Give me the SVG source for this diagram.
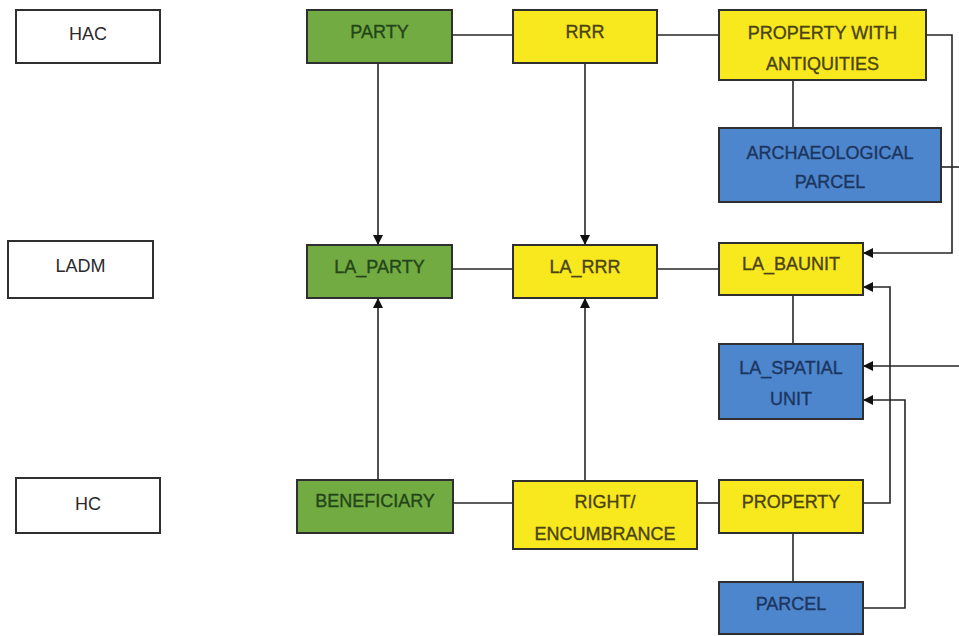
<svg xmlns="http://www.w3.org/2000/svg" width="959" height="636" viewBox="0 0 959 636">
  <style>
    .box { stroke: #2f2f2f; stroke-width: 2; }
    .lvl { fill: #ffffff; }
    .grn { fill: #72ab41; }
    .ylw { fill: #f8e81e; }
    .blu { fill: #4d86cc; }
    text { font-family: "Liberation Sans", Arial, sans-serif; font-size: 18px; text-anchor: middle; stroke-width: 0.35; }
    .t-lvl { fill: #2a2a2a; }
    .t-grn { fill: #24451a; stroke: #24451a; }
    .t-ylw { fill: #4a4314; stroke: #4a4314; }
    .t-blu { fill: #1c3560; stroke: #1c3560; }
    .wire { fill: none; stroke: #262626; stroke-width: 1.6; }
  </style>
  <defs>
    <marker id="arrow" viewBox="0 0 10 10" refX="10" refY="5" markerWidth="11" markerHeight="10" markerUnits="userSpaceOnUse" orient="auto">
      <path d="M0,0 L10,5 L0,10 z" fill="#111"/>
    </marker>
  </defs>
  <rect width="959" height="636" fill="#ffffff"/>

  <!-- connectors -->
  <g id="connectors" class="wire">
    <!-- horizontal associations -->
    <line x1="452" y1="35" x2="513" y2="35"/>
    <line x1="657" y1="35" x2="719" y2="35"/>
    <line x1="452" y1="269" x2="513" y2="269"/>
    <line x1="657" y1="269" x2="719" y2="269"/>
    <line x1="453" y1="503" x2="513" y2="503"/>
    <line x1="697" y1="503" x2="719" y2="503"/>
    <!-- vertical object-to-parcel links -->
    <line x1="793" y1="80" x2="793" y2="128"/>
    <line x1="793" y1="295" x2="793" y2="344"/>
    <line x1="793" y1="533" x2="793" y2="582"/>
    <!-- mappings into LADM -->
    <line x1="378" y1="63" x2="378" y2="245" marker-end="url(#arrow)"/>
    <line x1="585" y1="63" x2="585" y2="245" marker-end="url(#arrow)"/>
    <line x1="378" y1="480" x2="378" y2="298" marker-end="url(#arrow)"/>
    <line x1="585" y1="481" x2="585" y2="298" marker-end="url(#arrow)"/>
    <!-- right-hand routes -->
    <polyline points="926,35 952,35 952,253 863,253" marker-end="url(#arrow)"/>
    <line x1="941" y1="167" x2="959" y2="167"/>
    <line x1="959" y1="366" x2="863" y2="366" marker-end="url(#arrow)"/>
    <polyline points="863,503 890,503 890,287 863,287" marker-end="url(#arrow)"/>
    <polyline points="863,608 905,608 905,400 863,400" marker-end="url(#arrow)"/>
  </g>

  <!-- level labels -->
  <g id="hac">
    <rect class="box lvl" x="16" y="10" width="144" height="53"/>
    <text class="t-lvl" x="88" y="40">HAC</text>
  </g>
  <g id="ladm">
    <rect class="box lvl" x="8" y="241" width="145" height="57"/>
    <text class="t-lvl" x="80.5" y="272">LADM</text>
  </g>
  <g id="hc">
    <rect class="box lvl" x="16" y="478" width="144" height="55"/>
    <text class="t-lvl" x="88" y="510">HC</text>
  </g>

  <!-- HAC row -->
  <g id="party">
    <rect class="box grn" x="307" y="10" width="145" height="53"/>
    <text class="t-grn" x="379.5" y="38">PARTY</text>
  </g>
  <g id="rrr">
    <rect class="box ylw" x="513" y="10" width="144" height="53"/>
    <text class="t-ylw" x="585" y="38">RRR</text>
  </g>
  <g id="property-with-antiquities">
    <rect class="box ylw" x="719" y="10" width="207" height="70"/>
    <text class="t-ylw" x="822.5" y="39">PROPERTY WITH</text>
    <text class="t-ylw" x="822.5" y="70">ANTIQUITIES</text>
  </g>
  <g id="archaeological-parcel">
    <rect class="box blu" x="719" y="128" width="222" height="74"/>
    <text class="t-blu" x="830" y="159">ARCHAEOLOGICAL</text>
    <text class="t-blu" x="830" y="188">PARCEL</text>
  </g>

  <!-- LADM row -->
  <g id="la-party">
    <rect class="box grn" x="307" y="245" width="145" height="53"/>
    <text class="t-grn" x="379.5" y="273">LA_PARTY</text>
  </g>
  <g id="la-rrr">
    <rect class="box ylw" x="513" y="245" width="144" height="53"/>
    <text class="t-ylw" x="585" y="273">LA_RRR</text>
  </g>
  <g id="la-baunit">
    <rect class="box ylw" x="719" y="243" width="144" height="52"/>
    <text class="t-ylw" x="791" y="270">LA_BAUNIT</text>
  </g>
  <g id="la-spatial-unit">
    <rect class="box blu" x="719" y="344" width="144" height="75"/>
    <text class="t-blu" x="791" y="374">LA_SPATIAL</text>
    <text class="t-blu" x="791" y="405">UNIT</text>
  </g>

  <!-- HC row -->
  <g id="beneficiary">
    <rect class="box grn" x="297" y="480" width="156" height="53"/>
    <text class="t-grn" x="375" y="507">BENEFICIARY</text>
  </g>
  <g id="right-encumbrance">
    <rect class="box ylw" x="513" y="481" width="184" height="68"/>
    <text class="t-ylw" x="605" y="508">RIGHT/</text>
    <text class="t-ylw" x="605" y="540">ENCUMBRANCE</text>
  </g>
  <g id="property">
    <rect class="box ylw" x="719" y="480" width="144" height="53"/>
    <text class="t-ylw" x="791" y="508">PROPERTY</text>
  </g>
  <g id="parcel">
    <rect class="box blu" x="719" y="582" width="144" height="52"/>
    <text class="t-blu" x="791" y="610">PARCEL</text>
  </g>
</svg>
